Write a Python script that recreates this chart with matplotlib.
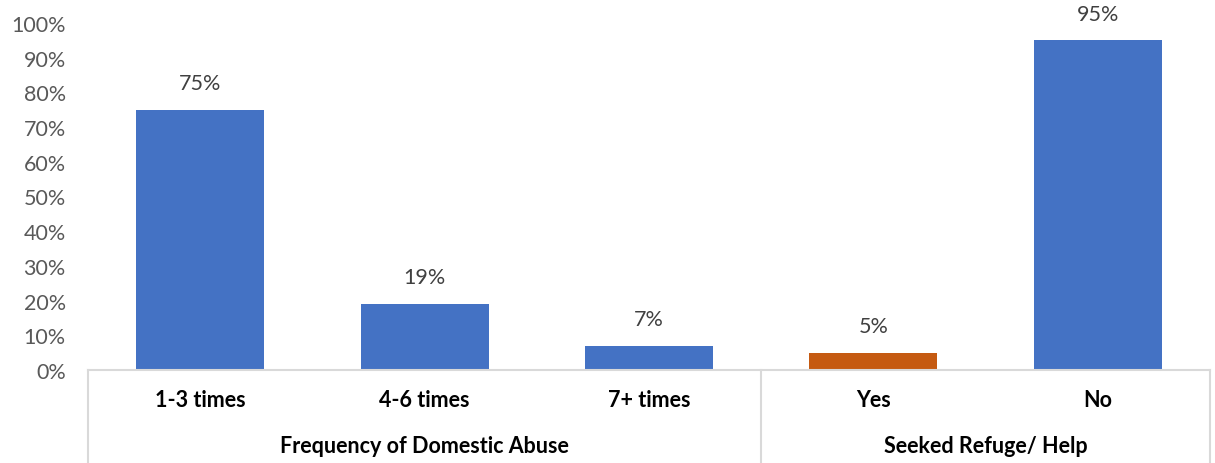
import matplotlib.pyplot as plt
import matplotlib.ticker as ticker
from matplotlib.transforms import blended_transform_factory

categories = ['1-3 times', '4-6 times', '7+ times', 'Yes', 'No']
values = [75, 19, 7, 5, 95]
bar_colors = ['#4472C4', '#4472C4', '#4472C4', '#C55A11', '#4472C4']
groups = ['Frequency of Domestic Abuse', 'Seeked Refuge/ Help']
group_spans = [(0, 2), (3, 4)]

plt.rcParams['font.family'] = ['Lato', 'DejaVu Sans']

W, H = 1215, 464
fig = plt.figure(figsize=(W / 100, H / 100), dpi=100)
x0, x1, y0, y1 = 88, 1210, 371, 24
ax = fig.add_axes([x0 / W, 1 - y0 / H, (x1 - x0) / W, (y0 - y1) / H])

x = list(range(len(categories)))
bars = ax.bar(x, values, width=0.57, color=bar_colors, zorder=2)
for b, v in zip(bars, values):
    ax.annotate(f'{v}%', (b.get_x() + b.get_width() / 2, v), xytext=(0, 12),
                textcoords='offset points', ha='center', va='bottom',
                fontsize=15.5, color='#404040', annotation_clip=False)

ax.set_xlim(-0.5, len(categories) - 0.5)
ax.set_ylim(0, 100)
ax.yaxis.set_major_locator(ticker.MultipleLocator(10))
ax.yaxis.set_major_formatter(ticker.FuncFormatter(lambda v, p: f'{v:.0f}%'))
ax.tick_params(axis='y', length=0, pad=16, labelsize=15.5, labelcolor='#595959')
ax.set_xticks([])
for s in ['top', 'right', 'left']:
    ax.spines[s].set_visible(False)
ax.spines['bottom'].set_color('#D9D9D9')
ax.spines['bottom'].set_linewidth(1.5)

# multi-level category axis below the plot
tr = blended_transform_factory(ax.transData, ax.transAxes)
bottom = -(H - y0) / (y0 - y1)
lab_y = -(401 - y0) / (y0 - y1)
grp_y = -(447 - y0) / (y0 - y1)
for i, c in enumerate(categories):
    ax.text(i, lab_y, c, transform=tr, ha='center', va='center',
            fontsize=15.5, fontweight='bold', color='black')
edges = [-0.5]
for g, (a, b) in zip(groups, group_spans):
    ax.text((a + b) / 2, grp_y, g, transform=tr, ha='center', va='center',
            fontsize=15.5, fontweight='bold', color='black')
    edges.append(b + 0.5)
for e in edges:
    ax.plot([e, e], [0, bottom], transform=tr, color='#D9D9D9', lw=1.5,
            clip_on=False)

fig.savefig('out.png', dpi=100)
